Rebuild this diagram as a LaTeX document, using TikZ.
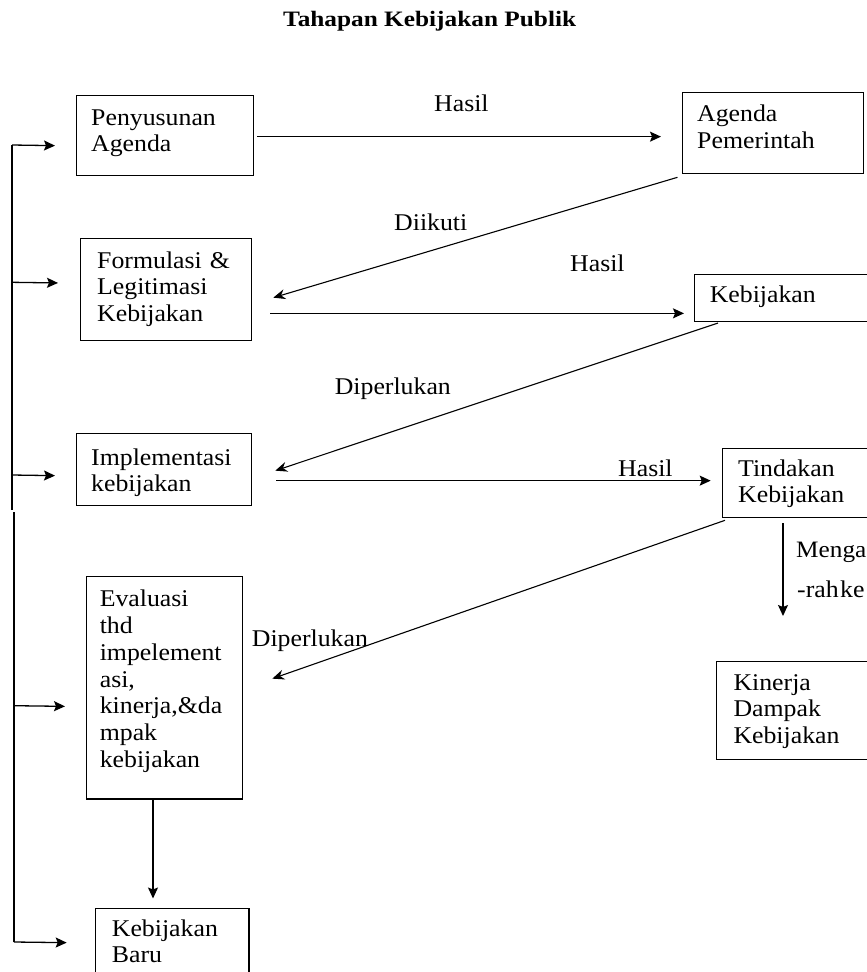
\documentclass[tikz,border=0pt]{standalone}
\usepackage{fontspec}
\setmainfont[FakeStretch=1.075]{Liberation Serif}
\newfontfamily\titlefont[FakeStretch=1.15]{Liberation Serif}
\usetikzlibrary{arrows.meta,calc}
\begin{document}
\begin{tikzpicture}[x=1pt,y=-1pt,
  box/.style={draw,line width=1.3pt,inner sep=0pt,anchor=north west},
  txt/.style={anchor=base west,inner sep=0pt,align=left,text width=220pt,font=\fontsize{24}{26.8}\selectfont},
  harr/.style={line width=1.3pt,-{Stealth[length=11pt,width=10pt,inset=2pt]}},
  darr/.style={line width=1.1pt,-{Stealth[length=12pt,width=10pt,inset=4pt]}},
  ln/.style={line width=1.3pt}]
\useasboundingbox (0,0) rectangle (867,972);
\clip (0,0) rectangle (867,972);

% title
\node[anchor=base west,inner sep=0pt,font=\titlefont\bfseries\fontsize{22}{26}\selectfont] (title) at (283,26) {Tahapan Kebijakan Publik};

% boxes
\node[box,minimum width=177pt,minimum height=80pt] (pa) at (76,95) {};
\node[box,minimum width=181pt,minimum height=81pt] (ap) at (682,92) {};
\node[box,minimum width=170.5pt,minimum height=102pt] (fl) at (80,238) {};
\node[box,minimum width=200pt,minimum height=46.7pt] (kb) at (694,274) {};
\node[box,minimum width=174.5pt,minimum height=72pt] (im) at (76,433) {};
\node[box,minimum width=200pt,minimum height=69pt] (tk) at (722,448) {};
\node[box,minimum width=200pt,minimum height=98.5pt] (kd) at (716,660.5) {};
\node[box,minimum width=156pt,minimum height=222.6pt] (ev) at (85.7,575.7) {};
\node[box,minimum width=153.3pt,minimum height=92.3pt] (nb) at (95,907.7) {};

% box texts
\node[txt] (pa-t) at (91,125) {Penyusunan\\Agenda};
\node[txt] (ap-t) at (697,121.7) {Agenda\\Pemerintah};
\node[txt] (fl-t) at (97,268) {Formulasi \&\\Legitimasi\\Kebijakan};
\node[txt] (kb-t) at (709.6,302.7) {Kebijakan};
\node[txt] (im-t) at (91,465) {Implementasi\\kebijakan};
\node[txt] (tk-t) at (738,476) {Tindakan\\Kebijakan};
\node[txt] (kd-t) at (733.3,690) {Kinerja\\Dampak\\Kebijakan};
\node[txt] (ev-t) at (99.6,606.7) {Evaluasi\\thd\\impelement\\asi,\\kinerja,\&da\\mpak\\kebijakan};
\node[txt] (nb-t) at (111.7,936) {Kebijakan\\Baru};

% connector labels
\node[txt] (l1) at (434,111) {Hasil};
\node[txt] (l2) at (394,230) {Diikuti};
\node[txt] (l3) at (570,271.7) {Hasil};
\node[txt] (l4) at (334.6,394) {Diperlukan};
\node[txt] (l5) at (618,476) {Hasil};
\node[txt] (l6) at (251.7,646) {Diperlukan};
\node[txt,font=\fontsize{23.5}{26.8}\selectfont] (l7) at (796,557) {Menga};
\node[txt] (l8) at (797,597) {-rah\hspace{1.5pt}ke};

% connectors
\draw[harr] ($(pa.east)+(3,1)$) -- ($(ap.west)+(-21,3.5)$);
\draw[darr] ($(ap.south west)+(-4.5,3)$) -- ($(fl.east)+(21.5,8)$);
\draw[harr] ($(fl.east)+(18.5,23.7)$) -- ($(kb.west)+(-10,15.35)$);
\draw[darr] ($(kb.south west)+(24,1)$) -- ($(im.east)+(23.5,1)$);
\draw[harr] ($(im.east)+(24.5,11)$) -- ($(tk.west)+(-11.3,-2.5)$);
\draw[darr] ($(tk.south west)+(3,2)$) -- ($(ev.east)+(29.3,-9)$);
\draw[harr] ($(tk.south west)+(61,5)$) -- ($(kd.north west)+(67,-44.5)$);
\draw[harr] ($(ev.south west)+(67.3,0.7)$) -- ($(nb.north west)+(58,-9.2)$);

% feedback line
\coordinate (f1) at (12,145);
\coordinate (f2) at (12,510);
\coordinate (f3) at (14,512);
\coordinate (f4) at (14,942);
\coordinate (fa) at (12,282.3);
\coordinate (fb) at (12,475);
\coordinate (fc) at (14,705.7);
\draw[ln] (f1) -- (f2);
\draw[ln] (f3) -- (f4);
\draw[harr] (f1) -- ($(pa.west)+(-21,10)$);
\draw[harr] (fa) -- ($(fl.west)+(-22,-6.7)$);
\draw[harr] (fb) -- ($(im.west)+(-21,6)$);
\draw[harr] (fc) -- ($(ev.west)+(-20.7,18.7)$);
\draw[harr] (f4) -- ($(nb.west)+(-28.3,-11.85)$);
\end{tikzpicture}
\end{document}
